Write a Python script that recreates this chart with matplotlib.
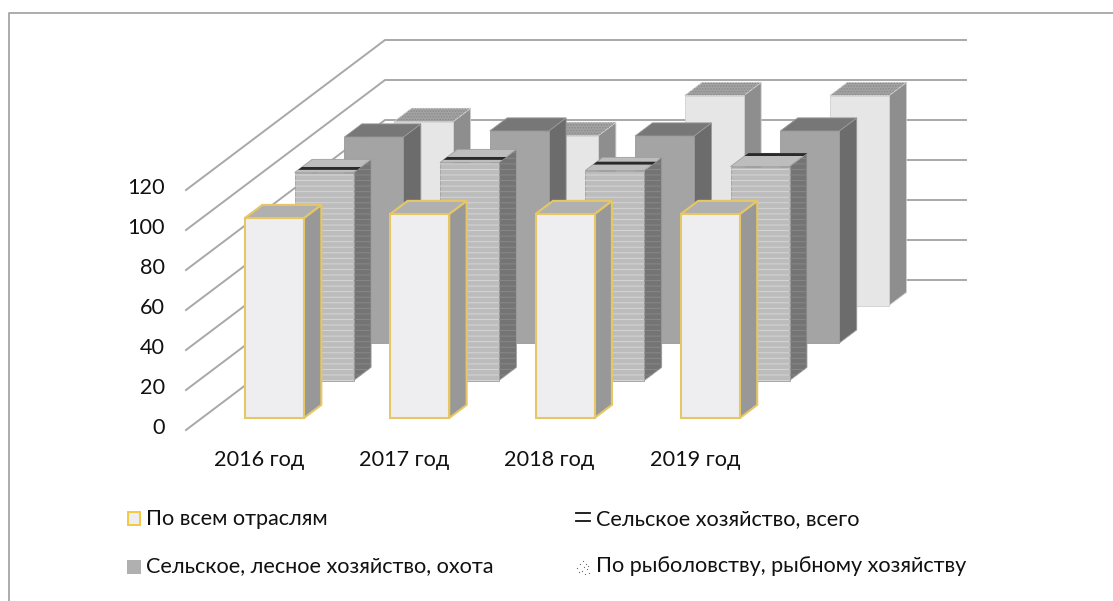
import matplotlib
matplotlib.use("Agg")
import matplotlib.pyplot as plt
from matplotlib.patches import Polygon, Rectangle

plt.rcParams['font.family'] = ['Lato', 'Open Sans', 'DejaVu Sans']
plt.rcParams['hatch.linewidth'] = 0.7

years = ["2016 год", "2017 год", "2018 год", "2019 год"]
series_names = ["По всем отраслям", "Сельское хозяйство, всего",
                "Сельское, лесное хозяйство, охота", "По рыболовству, рыбному хозяйству"]
all_sectors = [100, 102, 102, 102]
agri_total = [104, 109, 105, 107]
agri_forest = [103, 106, 103.5, 106]
fishing = [92, 85, 105, 105]
y_ticks = [0, 20, 40, 60, 80, 100, 120]

# projection of the 3d box onto the picture
X0, Y0 = 186, 430
DX, DY = 49.75, -37.5
SLOT = 145.3
PX_PER_UNIT = 2.0
GAP, WIDTH = 43, 59
DEPTH = 0.35
FLOOR_W = 581
FONT = 15.6


def proj(cat_pos, depth, val):
    return (X0 + cat_pos + depth * DX, Y0 + depth * DY - val * PX_PER_UNIT)


fig = plt.figure(figsize=(11.13, 6.01), dpi=100)
ax = fig.add_axes([0, 0, 1, 1])
ax.set_xlim(0, 1113)
ax.set_ylim(601, 0)
ax.axis("off")

# chart frame, right and bottom sides are cropped off
ax.plot([9, 9, 1113], [601, 13, 13], color="#a6a6a6", lw=1.3)

for t in y_ticks:
    a = proj(0, 0, t)
    b = proj(0, 4, t)
    c = proj(FLOOR_W, 4, t)
    ax.plot([a[0], b[0], c[0]], [a[1], b[1], c[1]], color="#a8a8a8", lw=1.4, zorder=1)
    ax.text(165, a[1] - 1.5, str(t), ha="right", va="center", fontsize=FONT, color="#111111")

styles = [
    dict(face="#eeeef0", side="#989898", top="#b0b0b0", edge="#e6c766"),
    dict(face="#bcbcbc", side="#747474", top="#bdbdbd", edge="#a0a0a0", hatch="---"),
    dict(face="#a4a4a4", side="#6c6c6c", top="#777777", edge="#9a9a9a"),
    dict(face="#e6e6e6", side="#8e8e8e", top="#a2a2a2", edge="#d0d0d0", dots="......"),
]
values = [all_sectors, agri_total, agri_forest, fishing]
# where the dark band sits on top of the striped bars, 0 front to 1 back
band_pos = [0.2, 0.2, 0.45, 0.8]


def draw_bar(i_cat, i_ser, val, st, z):
    left = i_cat * SLOT + GAP
    right = left + WIDTH
    d0 = i_ser + 0.32
    d1 = d0 + DEPTH
    lw = 1.5 if i_ser == 0 else 0.6
    side = [proj(right, d0, 0), proj(right, d1, 0), proj(right, d1, val), proj(right, d0, val)]
    top = [proj(left, d0, val), proj(right, d0, val), proj(right, d1, val), proj(left, d1, val)]
    face = [proj(left, d0, 0), proj(right, d0, 0), proj(right, d0, val), proj(left, d0, val)]
    ax.add_patch(Polygon(side, closed=True, fc=st["side"], ec=st["edge"], lw=lw, zorder=z))
    ax.add_patch(Polygon(top, closed=True, fc=st["top"], ec=st["edge"], lw=lw, zorder=z))
    ax.add_patch(Polygon(face, closed=True, fc=st["face"], ec=st["edge"], lw=lw, zorder=z + 0.1))
    if "dots" in st:
        ax.add_patch(Polygon(top, closed=True, fc="none", ec="#8a8a8a", hatch=st["dots"], lw=0, zorder=z + 0.2))
    if "hatch" in st:
        ax.add_patch(Polygon(face, closed=True, fc="none", ec="#d6d6d6", hatch=st["hatch"], lw=0, zorder=z + 0.2))
        ax.add_patch(Polygon(side, closed=True, fc="none", ec="#888888", hatch=st["hatch"], lw=0, zorder=z + 0.2))
        b0 = d0 + DEPTH * band_pos[i_cat]
        b1 = b0 + DEPTH * 0.22
        band = [proj(left, b0, val), proj(right, b0, val), proj(right, b1, val), proj(left, b1, val)]
        ax.add_patch(Polygon(band, closed=True, fc="#2a2a2a", ec="none", zorder=z + 0.2))


# back series first so the front ones cover them
for i_ser in [3, 2, 1, 0]:
    for i_cat, val in enumerate(values[i_ser]):
        draw_bar(i_cat, i_ser, val, styles[i_ser], 5 + (3 - i_ser))

for i_cat, name in enumerate(years):
    ax.text(X0 + i_cat * SLOT + 73, 460, name, ha="center", va="center", fontsize=FONT, color="#111111")

# legend
ax.add_patch(Rectangle((127.5, 511.5), 12, 13, fc="#eeeef0", ec="#f5c842", lw=1.4))
ax.add_patch(Rectangle((127, 560), 14, 14, fc="#b0b0b0", ec="none"))
ax.plot([576, 590], [512.5, 512.5], color="#111111", lw=1.3)
ax.plot([576, 590], [520.5, 520.5], color="#111111", lw=1.3)
ax.scatter([577, 580, 583, 586, 589, 579, 584, 587, 582, 585, 588],
           [568, 564, 561, 564, 573, 572, 567, 569, 571, 574, 566], s=0.8, color="#666666", linewidths=0)
ax.text(596, 519, series_names[1], va="center", fontsize=FONT, color="#111111")
ax.text(146, 519, series_names[0], va="center", fontsize=FONT, color="#111111")
ax.text(146, 566, series_names[2], va="center", fontsize=FONT, color="#111111")
ax.text(596, 566, series_names[3], va="center", fontsize=FONT, color="#111111")

fig.savefig("out.png", dpi=100)
